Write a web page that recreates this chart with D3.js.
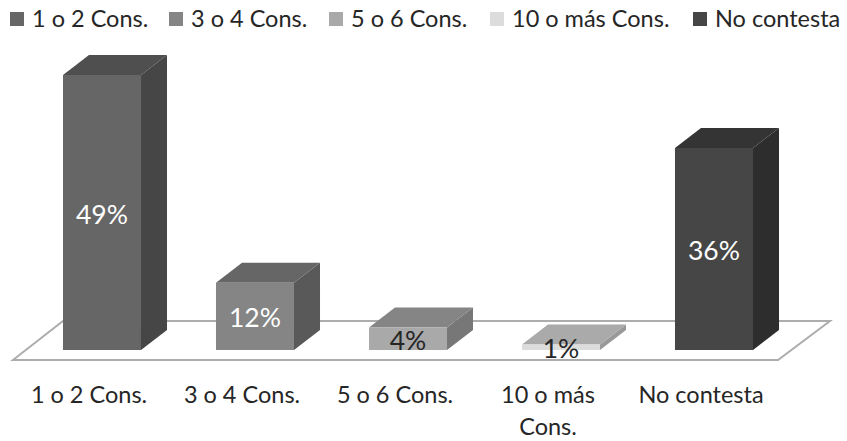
<!DOCTYPE html>
<html>
<head>
<meta charset="utf-8">
<script src="https://cdn.jsdelivr.net/npm/d3@7"></script>
<style>
  html, body { margin: 0; padding: 0; background: #fff; }
  svg { display: block; }
  text { font-family: Lato, "Open Sans", sans-serif; }
</style>
</head>
<body>
<svg id="chart" width="847" height="441"></svg>
<script>
// Survey responses, in percent
const categories = ["1 o 2 Cons.", "3 o 4 Cons.", "5 o 6 Cons.", "10 o más Cons.", "No contesta"];
const values = [49, 12, 4, 1, 36];

// Face shades per bar
const frontColors = ["#666666", "#858585", "#a9a9a9", "#dcdcdc", "#464646"];
const topColors = ["#4f4f4f", "#666666", "#858585", "#aaaaaa", "#343434"];
const sideColors = ["#464646", "#595959", "#777777", "#999999", "#2d2d2d"];
const labelColors = ["#ffffff", "#ffffff", "#262626", "#262626", "#ffffff"];
const legendSwatchX = [10, 169, 329, 490, 693];

const svg = d3.select("#chart");
const depthX = 26, depthY = 20;
const baseY = 350;

const x = d3.scaleBand().domain(categories).range([25.5, 790.5]).paddingInner(0.49).paddingOuter(0.245);
const y = d3.scaleLinear().domain([0, 49]).range([baseY, 75]);
const poly = pts => pts.map(p => p.join(",")).join(" ");

// Floor of the 3D plot
svg.append("polygon")
  .attr("points", poly([[13, 360], [63, 321], [830, 321], [778, 360]]))
  .attr("fill", "#fff").attr("stroke", "#adadad").attr("stroke-width", 2);

// Bars: side, top and front faces
const bars = svg.append("g").selectAll("g")
  .data(categories.map((c, i) => ({ c, v: values[i], i })))
  .join("g");

bars.append("polygon").attr("fill", d => sideColors[d.i]).attr("points", d => {
  const r = x(d.c) + x.bandwidth();
  return poly([[r, y(d.v)], [r + depthX, y(d.v) - depthY], [r + depthX, baseY - depthY], [r, baseY]]);
});
bars.append("polygon").attr("fill", d => topColors[d.i]).attr("points", d => {
  const l = x(d.c), r = l + x.bandwidth();
  return poly([[l, y(d.v)], [l + depthX, y(d.v) - depthY], [r + depthX, y(d.v) - depthY], [r, y(d.v)]]);
});
bars.append("rect")
  .attr("x", d => x(d.c)).attr("y", d => y(d.v))
  .attr("width", x.bandwidth()).attr("height", d => baseY - y(d.v))
  .attr("fill", d => frontColors[d.i]);

// Value labels
bars.append("text")
  .attr("x", d => x(d.c) + x.bandwidth() / 2)
  .attr("y", d => (y(d.v) + baseY) / 2 + 11)
  .attr("text-anchor", "middle")
  .attr("font-size", 26.5)
  .attr("fill", d => labelColors[d.i])
  .text(d => d.v + "%");

// Category axis sits under the front edge of the floor, left of the bars;
// the long label breaks over two lines
const axis = svg.append("g")
  .attr("transform", "translate(-13,380)")
  .call(d3.axisBottom(x).tickSize(0).tickPadding(0));
axis.select(".domain").remove();
axis.selectAll("text")
  .attr("font-size", 23.5).attr("fill", "#262626")
  .style("font-family", "Lato, 'Open Sans', sans-serif")
  .attr("dy", null).attr("y", 23)
  .each(function (d) {
    if (d !== "10 o más Cons.") return;
    const t = d3.select(this).text(null);
    t.append("tspan").attr("x", 0).attr("y", 23).text("10 o más");
    t.append("tspan").attr("x", 0).attr("y", 55).text("Cons.");
  });

// Legend
const legend = svg.append("g").selectAll("g").data(categories).join("g")
  .attr("transform", (d, i) => `translate(${legendSwatchX[i]},0)`);
legend.append("rect").attr("y", 12).attr("width", 14).attr("height", 14)
  .attr("fill", (d, i) => frontColors[i]);
legend.append("text").attr("x", 22).attr("y", 27)
  .attr("font-size", 23.5).attr("fill", "#262626").text(d => d);
</script>
</body>
</html>
